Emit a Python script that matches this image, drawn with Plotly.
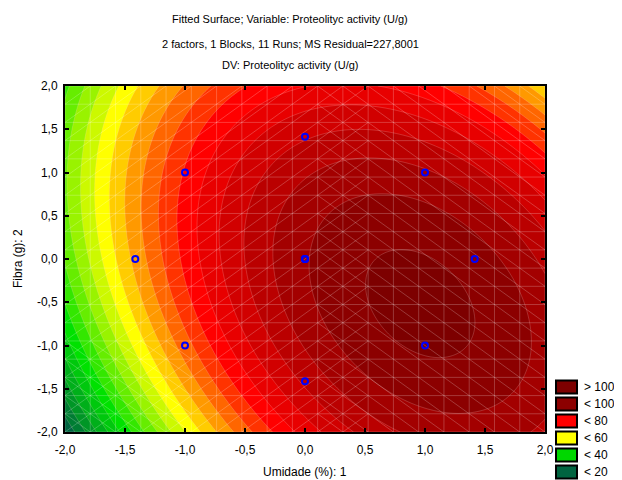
import numpy as np
import plotly.graph_objects as go

# ---------------- data ----------------
# experimental design (11 runs, 3 centre replicates)
run_umidade = [-1.0, 1.0, -1.0, 1.0, -1.414, 1.414, 0.0, 0.0, 0.0, 0.0, 0.0]
run_fibra = [-1.0, -1.0, 1.0, 1.0, 0.0, 0.0, -1.414, 1.414, 0.0, 0.0, 0.0]

# surface values at several locations
sample_umidade = [1.0, 0.39, 1.46, 0.75, 1.10, -0.025, 1.875, 1.27, 0.70, 0.68, 0.66, 0.64, 0.62,
                  -1.5, -0.6, 1.4, 2.0, 2.0, 0.0, -1.65, -0.87, -1.41, -1.0, -1.0, -1.05, -0.3,
                  -2.0, -2.0, 2.0, -2.0, -2.0]
sample_fibra = [-0.56, -0.6, -0.6, 0.19, -1.23, -0.27, -0.91, -1.77, 0.74, 1.11, 1.42, 1.69, 1.92,
                2.0, 2.0, 2.0, 2.0, 1.2, 2.0, 0.0, 0.0, 0.0, -1.0, 1.0, -1.9, -1.9,
                -2.0, 2.0, -2.0, 0.0, -1.0]
sample_activity = [101.5, 100, 100, 100, 100, 96, 96, 96, 96, 92, 88, 84, 80,
                   58, 78, 78, 57, 78, 78, 57, 78, 66, 66, 74, 58, 78,
                   14, 42, 90, 46, 37]

x_ticks = [-2.0, -1.5, -1.0, -0.5, 0.0, 0.5, 1.0, 1.5, 2.0]
x_tick_text = ["-2,0", "-1,5", "-1,0", "-0,5", "0,0", "0,5", "1,0", "1,5", "2,0"]
y_ticks = x_ticks
y_tick_text = x_tick_text

legend_labels = ["> 100", "< 100", "< 80", "< 60", "< 40", "< 20"]
legend_colors = ["rgb(125,0,0)", "rgb(140,0,0)", "rgb(255,0,0)", "rgb(255,255,0)",
                 "rgb(0,215,0)", "rgb(0,100,64)"]

title_lines = ["Fitted Surface; Variable: Proteolityc activity (U/g)",
               "2 factors, 1 Blocks, 11 Runs; MS Residual=227,8001",
               "DV: Proteolityc activity (U/g)"]

# ---------------- quadratic fit ----------------
sx = np.array(sample_umidade); sy = np.array(sample_fibra); sz = np.array(sample_activity, float)
A = np.column_stack([np.ones_like(sx), sx, sy, sx**2, sy**2, sx * sy])
coef, *_ = np.linalg.lstsq(A, sz, rcond=None)

gx = np.linspace(-2, 2, 241)
gy = np.linspace(-2, 2, 241)
GX, GY = np.meshgrid(gx, gy)
Z = (coef[0] + coef[1] * GX + coef[2] * GY + coef[3] * GX**2 + coef[4] * GY**2 + coef[5] * GX * GY)

# ---------------- colours for the bands ----------------
start, end, step = 16, 100, 4
n_bands = int((end - start) / step) + 2  # incl. below start & above end


def band_color(upper):
    anchors = [(20, (0, 100, 64)), (40, (0, 225, 0)), (60, (255, 255, 0)),
               (80, (255, 0, 0)), (100, (140, 0, 0))]
    if upper <= 20:
        return "rgb(0,100,64)"
    if upper > 100:
        return "rgb(125,0,0)"
    for (v0, c0), (v1, c1) in zip(anchors[:-1], anchors[1:]):
        if v0 <= upper <= v1:
            t = (upper - v0) / (v1 - v0)
            c = [round(a + (b - a) * t) for a, b in zip(c0, c1)]
            return f"rgb({c[0]},{c[1]},{c[2]})"


colorscale = []
for i in range(n_bands):
    upper = start + step * i
    colorscale.append([i / (n_bands - 1), band_color(upper)])

fig = go.Figure()
fig.add_trace(go.Contour(
    x=gx, y=gy, z=Z,
    autocontour=False,
    contours=dict(start=start, end=end, size=step, coloring="fill"),
    colorscale=colorscale, showscale=False,
    line=dict(color="rgba(255,215,215,0.3)", width=0.7),
    hoverinfo="skip",
))

# triangulation mesh of the surface (20 x 20 grid)
mesh = np.linspace(-2, 2, 20)
mx, my = [], []
for v in mesh:
    mx += [v, v, None]; my += [-2, 2, None]
    mx += [-2, 2, None]; my += [v, v, None]
for i in range(19):
    for j in range(19):
        x0, x1 = mesh[i], mesh[i + 1]
        y0, y1 = mesh[j], mesh[j + 1]
        xc = (x0 + x1) / 2
        yc = (y0 + y1) / 2
        if xc < 0.5:
            mx += [x0, x1, None]; my += [y0, y1, None]
        if xc > 0.0 or (xc < -1.0 and yc < -1.0):
            mx += [x0, x1, None]; my += [y1, y0, None]
fig.add_trace(go.Scatter(x=mx, y=my, mode="lines",
                         line=dict(color="rgba(255,255,255,0.28)", width=0.8),
                         hoverinfo="skip", showlegend=False))

fig.add_trace(go.Scatter(
    x=run_umidade, y=run_fibra, mode="markers",
    marker=dict(symbol="circle-open", size=6, color="#0000ff", line=dict(width=2, color="#0000ff")),
    showlegend=False, hoverinfo="skip"))

font = dict(family="Liberation Sans, Arial, sans-serif", size=12, color="#000000")
title_font = dict(family="Liberation Sans, Arial, sans-serif", size=11, color="#000000")

axis_common = dict(
    range=[-2, 2], showgrid=False, zeroline=False,
    showline=True, linecolor="#000000", linewidth=2, mirror="ticks",
    ticks="inside", ticklen=4, tickwidth=1.5, tickcolor="#000000",
    tickfont=font,
)

# page has an 8 px body margin -> figure is 614 x 472 so plot area sits at x 65..545, y 86..432
fig.update_layout(
    width=614, height=472,
    margin=dict(l=57, r=77, t=78, b=48),
    paper_bgcolor="#ffffff", plot_bgcolor="#ffffff",
    showlegend=False, font=font,
    xaxis=dict(**axis_common, tickvals=x_ticks, ticktext=x_tick_text, ticklabelstandoff=6),
    yaxis=dict(**axis_common, tickvals=y_ticks, ticktext=y_tick_text, ticklabelstandoff=3),
)

annotations = []
for text, ypx in zip(title_lines, [19, 44, 65]):
    annotations.append(dict(text=text, x=(290 - 65) / 480, y=(432 - ypx) / 346, xref="paper", yref="paper",
                            xanchor="center", yanchor="middle", showarrow=False, font=title_font))
annotations.append(dict(text="Umidade (%): 1", x=(305 - 65) / 480, y=(432 - 472) / 346, xref="paper", yref="paper",
                        xanchor="center", yanchor="middle", showarrow=False, font=font))
annotations.append(dict(text="Fibra (g): 2", x=(18 - 65) / 480, y=0.5, xref="paper", yref="paper",
                        xanchor="center", yanchor="middle", showarrow=False, textangle=-90, font=font))

shapes = []
for k, (lab, col) in enumerate(zip(legend_labels, legend_colors)):
    yc = 387 + 17 * k
    shapes.append(dict(type="rect", xref="paper", yref="paper",
                       x0=(556 - 65) / 480, x1=(577 - 65) / 480,
                       y0=(432 - (yc + 6.5)) / 346, y1=(432 - (yc - 6.5)) / 346,
                       fillcolor=col, line=dict(color="#000000", width=2)))
    annotations.append(dict(text=lab, x=(582 - 65) / 480, y=(432 - yc) / 346, xref="paper", yref="paper",
                            xanchor="left", yanchor="middle", showarrow=False,
                            font=dict(family="Liberation Sans, Arial, sans-serif", size=12, color="#000000")))

fig.update_layout(annotations=annotations, shapes=shapes)
fig.write_html("out.html")
